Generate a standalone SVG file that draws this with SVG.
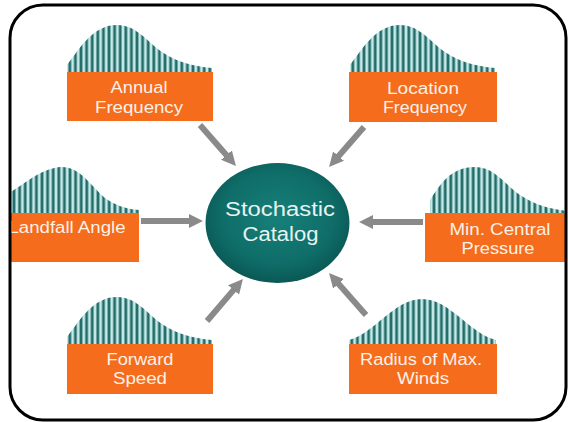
<svg xmlns="http://www.w3.org/2000/svg" width="568" height="422" viewBox="0 0 568 422">
<style>
.box{fill:#f46c1c}
.lbl{font-family:"Liberation Sans",Arial,sans-serif;font-size:16px;fill:#fdf1e8;text-anchor:middle}
.ctr{font-family:"Liberation Sans",Arial,sans-serif;font-size:20px;fill:#e6f4f2;text-anchor:middle}
.hist{fill:url(#bars)}
.conn{stroke:#8a8a8a;stroke-width:6;fill:none;marker-end:url(#head)}
</style>
<defs>
<pattern id="bars" patternUnits="userSpaceOnUse" width="5.6" height="10">
<rect width="5.6" height="10" fill="#c6eae8"/>
<rect x="1.4" width="2.8" height="10" fill="#236c6a"/>
</pattern>
<path id="skew" d="M0,0 V-7 C12,-22 25,-47 50,-47 C70,-47 80,-30 95,-20 C110,-10 125,-6 145,-4 V0 Z"/>
<path id="bell" d="M0,0 V-4 C25,-10 45,-45 73,-45 C101,-45 121,-10 147,-4 V0 Z"/>
<radialGradient id="tealg" cx="50%" cy="45%" r="55%">
<stop offset="0" stop-color="#17807a"/>
<stop offset="0.7" stop-color="#0f6d68"/>
<stop offset="1" stop-color="#0a5855"/>
</radialGradient>
<marker id="head" viewBox="0 0 10 10" refX="1" refY="5" markerWidth="2.4" markerHeight="2.4" orient="auto">
<path d="M0,0 L10,5 L0,10 Z" fill="#8a8a8a"/>
</marker>
<clipPath id="frameclip">
<rect x="10" y="5" width="556" height="415" rx="33" ry="33"/>
</clipPath>
</defs>
<rect width="568" height="422" fill="#ffffff"/>
<g clip-path="url(#frameclip)">
<g id="connectors">
<line class="conn" x1="200" y1="125" x2="227.4" y2="156.2"/>
<line class="conn" x1="364" y1="127" x2="337.6" y2="157.2"/>
<line class="conn" x1="141" y1="221" x2="190" y2="221"/>
<line class="conn" x1="423" y1="222" x2="372" y2="222"/>
<line class="conn" x1="207" y1="321" x2="234.5" y2="288.9"/>
<line class="conn" x1="366" y1="315" x2="337.6" y2="282.8"/>
</g>
<g id="node-stochastic-catalog">
<ellipse cx="277.5" cy="223" rx="72" ry="60" fill="url(#tealg)"/>
<text class="ctr" x="280" y="216" textLength="110" lengthAdjust="spacingAndGlyphs">Stochastic</text>
<text class="ctr" x="280.5" y="241" textLength="76" lengthAdjust="spacingAndGlyphs">Catalog</text>
</g>
<g id="node-annual-frequency">
<use href="#skew" class="hist" transform="translate(67,72)"/>
<rect class="box" x="67" y="72" width="146" height="49"/>
<text class="lbl" x="139" y="93" textLength="57" lengthAdjust="spacingAndGlyphs">Annual</text>
<text class="lbl" x="139" y="113" textLength="88" lengthAdjust="spacingAndGlyphs">Frequency</text>
</g>
<g id="node-location-frequency">
<use href="#skew" class="hist" transform="translate(350,72)"/>
<rect class="box" x="349" y="72" width="148" height="50"/>
<text class="lbl" x="423" y="94" textLength="72" lengthAdjust="spacingAndGlyphs">Location</text>
<text class="lbl" x="425" y="113" textLength="84" lengthAdjust="spacingAndGlyphs">Frequency</text>
</g>
<g id="node-landfall-angle">
<path class="hist" d="M0,213 V197 C20,190 35,170 60,167 C80,166 90,185 105,198 C115,205 125,209 139,210 V213 Z"/>
<rect class="box" x="0" y="213" width="139" height="49"/>
<text class="lbl" x="67" y="233" textLength="117" lengthAdjust="spacingAndGlyphs">Landfall Angle</text>
</g>
<g id="node-min-central-pressure">
<path class="hist" d="M430,213 V200 C440,185 450,167 475,167 C495,167 505,185 520,195 C535,205 550,209 568,211 V213 Z"/>
<rect class="box" x="425" y="213" width="143" height="49"/>
<text class="lbl" x="500" y="235" textLength="101" lengthAdjust="spacingAndGlyphs">Min. Central</text>
<text class="lbl" x="498" y="254" textLength="73" lengthAdjust="spacingAndGlyphs">Pressure</text>
</g>
<g id="node-forward-speed">
<use href="#skew" class="hist" transform="translate(67,344)"/>
<rect class="box" x="67" y="344" width="146" height="50"/>
<text class="lbl" x="140" y="365" textLength="67" lengthAdjust="spacingAndGlyphs">Forward</text>
<text class="lbl" x="140" y="384" textLength="54" lengthAdjust="spacingAndGlyphs">Speed</text>
</g>
<g id="node-radius-max-winds">
<use href="#bell" class="hist" transform="translate(349,344)"/>
<rect class="box" x="349" y="344" width="148" height="50"/>
<text class="lbl" x="421" y="365" textLength="122" lengthAdjust="spacingAndGlyphs">Radius of Max.</text>
<text class="lbl" x="423" y="384" textLength="52" lengthAdjust="spacingAndGlyphs">Winds</text>
</g>
</g>
<rect x="10" y="5" width="556" height="415" rx="33" ry="33" fill="none" stroke="#000000" stroke-width="3"/>
</svg>
